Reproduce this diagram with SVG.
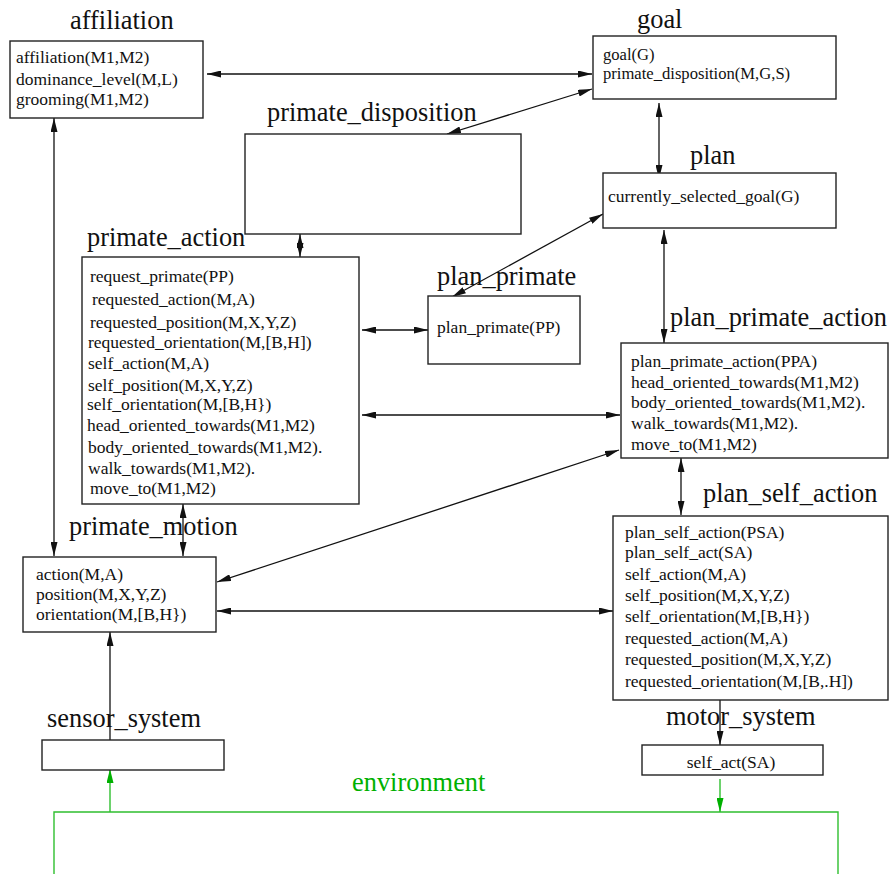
<svg xmlns="http://www.w3.org/2000/svg" width="890" height="874" viewBox="0 0 890 874">
  <style>
    .box { fill: #fff; stroke: #222; stroke-width: 1.4; }
    .title { font-family: "Liberation Serif", "Times New Roman", serif; font-size: 26.4px; fill: #111; }
    .txt { font-family: "Liberation Serif", "Times New Roman", serif; font-size: 17.5px; fill: #111; }
    .tight { font-size: 16.6px; }
    .env { font-family: "Liberation Serif", "Times New Roman", serif; font-size: 26.4px; fill: #00b000; }
    .link { fill: none; stroke: #111; stroke-width: 1.3; }
    .both { marker-start: url(#head); marker-end: url(#head); }
    .one { marker-end: url(#head); }
    .glink { fill: none; stroke: #2fbf2f; stroke-width: 1.4; }
  </style>
  <defs>
    <marker id="head" markerUnits="userSpaceOnUse" markerWidth="14" markerHeight="7" refX="14" refY="3.5" orient="auto-start-reverse">
      <path d="M0,0 L14,3.5 L0,7 z" fill="#111"/>
    </marker>
    <marker id="ghead" markerUnits="userSpaceOnUse" markerWidth="14" markerHeight="7" refX="14" refY="3.5" orient="auto">
      <path d="M0,0 L14,3.5 L0,7 z" fill="#00b000"/>
    </marker>
  </defs>

  <rect width="890" height="874" fill="#fff"/>

  <!-- connectors -->
  <g id="connectors">
    <line class="link both" x1="207" y1="74" x2="592" y2="74"/>
    <line class="link both" x1="592" y1="89" x2="447" y2="134"/>
    <line class="link both" x1="659" y1="103" x2="659" y2="179"/>
    <line class="link both" x1="300" y1="234" x2="300" y2="257"/>
    <line class="link both" x1="603" y1="214" x2="452" y2="297"/>
    <line class="link both" x1="664" y1="230" x2="664" y2="343"/>
    <line class="link both" x1="362" y1="330" x2="428" y2="330"/>
    <line class="link both" x1="362" y1="415" x2="620" y2="415"/>
    <line class="link both" x1="619" y1="450" x2="217" y2="582"/>
    <line class="link both" x1="217" y1="611" x2="613" y2="611"/>
    <line class="link both" x1="681" y1="458" x2="681" y2="515"/>
    <line class="link both" x1="54" y1="118" x2="54" y2="556"/>
    <line class="link both" x1="183" y1="504" x2="183" y2="556"/>
    <line class="link one" x1="110" y1="740" x2="110" y2="632"/>
    <line class="link one" x1="720" y1="700" x2="720" y2="745"/>
    <!-- environment links -->
    <path class="glink" d="M54,874 L54,812 L838,812 L838,874"/>
    <line class="glink" x1="110" y1="812" x2="110" y2="769" marker-end="url(#ghead)"/>
    <line class="glink" x1="720" y1="779" x2="720" y2="812" marker-end="url(#ghead)"/>
  </g>

  <g id="affiliation">
    <text class="title" x="70" y="29">affiliation</text>
    <rect class="box" x="10" y="41" width="193" height="77"/>
    <text class="txt" x="16" y="63">affiliation(M1,M2)</text>
    <text class="txt" x="16" y="85">dominance_level(M,L)</text>
    <text class="txt" x="16" y="105">grooming(M1,M2)</text>
  </g>

  <g id="goal">
    <text class="title" x="637" y="28">goal</text>
    <rect class="box" x="593" y="36" width="243" height="63"/>
    <text class="txt tight" x="603" y="60">goal(G)</text>
    <text class="txt tight" x="603" y="79">primate_disposition(M,G,S)</text>
  </g>

  <g id="primate_disposition">
    <text class="title" x="267" y="121">primate_disposition</text>
    <rect class="box" x="245" y="134" width="276" height="100"/>
  </g>

  <g id="plan">
    <text class="title" x="690" y="164">plan</text>
    <rect class="box" x="603" y="173" width="233" height="55"/>
    <text class="txt" x="608" y="202">currently_selected_goal(G)</text>
  </g>

  <g id="primate_action">
    <text class="title" x="87" y="246">primate_action</text>
    <rect class="box" x="82" y="257" width="277" height="247"/>
    <text class="txt" x="90" y="282">request_primate(PP)</text>
    <text class="txt" x="92" y="305">requested_action(M,A)</text>
    <text class="txt" x="90" y="328">requested_position(M,X,Y,Z)</text>
    <text class="txt" x="88" y="348">requested_orientation(M,[B,H])</text>
    <text class="txt" x="88" y="369">self_action(M,A)</text>
    <text class="txt" x="88" y="391">self_position(M,X,Y,Z)</text>
    <text class="txt" x="87" y="410">self_orientation(M,[B,H})</text>
    <text class="txt" x="87" y="431">head_oriented_towards(M1,M2)</text>
    <text class="txt" x="88" y="453">body_oriented_towards(M1,M2).</text>
    <text class="txt" x="88" y="474">walk_towards(M1,M2).</text>
    <text class="txt" x="90" y="494">move_to(M1,M2)</text>
  </g>

  <g id="plan_primate">
    <text class="title" x="437" y="285">plan_primate</text>
    <rect class="box" x="428" y="296" width="152" height="68"/>
    <text class="txt" x="437" y="333">plan_primate(PP)</text>
  </g>

  <g id="plan_primate_action">
    <text class="title" x="670" y="326">plan_primate_action</text>
    <rect class="box" x="621" y="343" width="267" height="115"/>
    <text class="txt" x="631" y="367">plan_primate_action(PPA)</text>
    <text class="txt" x="631" y="388">head_oriented_towards(M1,M2)</text>
    <text class="txt" x="631" y="408">body_oriented_towards(M1,M2).</text>
    <text class="txt" x="631" y="429">walk_towards(M1,M2).</text>
    <text class="txt" x="631" y="450">move_to(M1,M2)</text>
  </g>

  <g id="plan_self_action">
    <text class="title" x="703" y="502">plan_self_action</text>
    <rect class="box" x="613" y="516" width="275" height="184"/>
    <text class="txt" x="625" y="538">plan_self_action(PSA)</text>
    <text class="txt" x="625" y="558">plan_self_act(SA)</text>
    <text class="txt" x="625" y="580">self_action(M,A)</text>
    <text class="txt" x="625" y="601">self_position(M,X,Y,Z)</text>
    <text class="txt" x="625" y="622">self_orientation(M,[B,H})</text>
    <text class="txt" x="625" y="644">requested_action(M,A)</text>
    <text class="txt" x="625" y="665">requested_position(M,X,Y,Z)</text>
    <text class="txt" x="625" y="687">requested_orientation(M,[B,.H])</text>
  </g>

  <g id="primate_motion">
    <text class="title" x="69" y="535">primate_motion</text>
    <rect class="box" x="23" y="557" width="193" height="75"/>
    <text class="txt" x="36" y="580">action(M,A)</text>
    <text class="txt" x="36" y="600">position(M,X,Y,Z)</text>
    <text class="txt" x="36" y="620">orientation(M,[B,H})</text>
  </g>

  <g id="sensor_system">
    <text class="title" x="47" y="727">sensor_system</text>
    <rect class="box" x="42" y="740" width="182" height="30"/>
  </g>

  <g id="motor_system">
    <text class="title" x="666" y="725">motor_system</text>
    <rect class="box" x="642" y="745" width="181" height="30"/>
    <text class="txt" x="731" y="768" text-anchor="middle">self_act(SA)</text>
  </g>

  <g id="environment">
    <text class="env" x="352" y="791">environment</text>
  </g>
</svg>
